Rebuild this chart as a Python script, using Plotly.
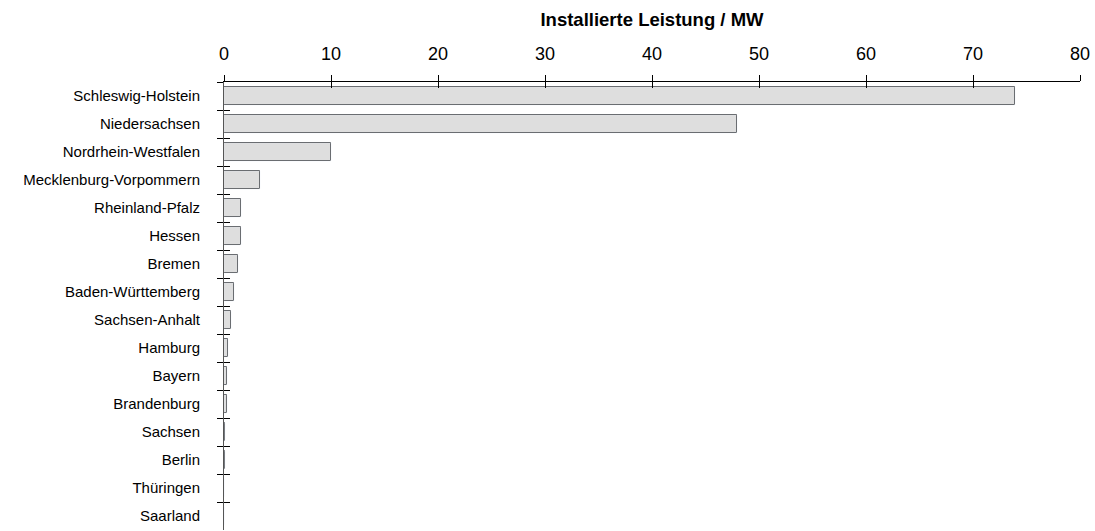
import plotly.graph_objects as go

# Installed capacity per federal state (MW)
states = [
    "Schleswig-Holstein", "Niedersachsen", "Nordrhein-Westfalen",
    "Mecklenburg-Vorpommern", "Rheinland-Pfalz", "Hessen", "Bremen",
    "Baden-Württemberg", "Sachsen-Anhalt", "Hamburg", "Bayern",
    "Brandenburg", "Sachsen", "Berlin", "Thüringen", "Saarland",
]
leistung_mw = [73.9, 47.9, 10.0, 3.4, 1.6, 1.55, 1.35, 0.92, 0.64, 0.36,
               0.28, 0.25, 0.1, 0.08, 0.0, 0.0]
x_ticks = [0, 10, 20, 30, 40, 50, 60, 70, 80]

FONT = "Arial, Liberation Sans, sans-serif"

fig = go.Figure()
fig.add_trace(go.Bar(
    y=states, x=leistung_mw, orientation="h", width=0.65,
    marker=dict(color="#dedede", line=dict(color="#222222", width=1)),
    hoverinfo="x+y",
))
# invisible copy on overlay axes; those axes carry the inner tick halves
fig.add_trace(go.Bar(
    y=states, x=leistung_mw, orientation="h", width=0.65,
    xaxis="x2", yaxis="y2", marker=dict(color="rgba(0,0,0,0)"),
    hoverinfo="skip", showlegend=False,
))

xr = [0, 80]
yr = [len(states) - 0.5, -0.5]

fig.update_layout(
    width=1095, height=531,
    margin=dict(l=224, r=15, t=82, b=1),
    plot_bgcolor="white", paper_bgcolor="white",
    showlegend=False, bargap=0,
    font=dict(family=FONT, color="black"),
    xaxis=dict(
        side="top", range=xr, tickvals=x_ticks, ticks="outside", ticklen=6,
        tickcolor="black", showline=True, linecolor="black", linewidth=1,
        showgrid=False, zeroline=False, tickfont=dict(size=18),
        ticklabelstandoff=8,
        title=dict(text="<b>Installierte Leistung / MW</b>",
                   font=dict(size=18.5), standoff=12),
    ),
    yaxis=dict(
        range=yr, type="category", tickson="boundaries", ticks="outside",
        ticklen=6, tickcolor="black", showline=True, linecolor="#555555",
        linewidth=1, showgrid=False, zeroline=False,
        tickfont=dict(size=15), ticklabelstandoff=20,
    ),
    xaxis2=dict(
        overlaying="x", anchor="y2", side="top", range=xr, tickvals=x_ticks,
        ticks="inside", ticklen=6, tickcolor="black", showticklabels=False,
        showline=False, showgrid=False, zeroline=False,
    ),
    yaxis2=dict(
        overlaying="y", anchor="x2", side="left", range=yr, type="category",
        tickson="boundaries", ticks="inside", ticklen=6, tickcolor="black",
        showticklabels=False, showline=False, showgrid=False, zeroline=False,
    ),
)

fig.write_html("out.html")
